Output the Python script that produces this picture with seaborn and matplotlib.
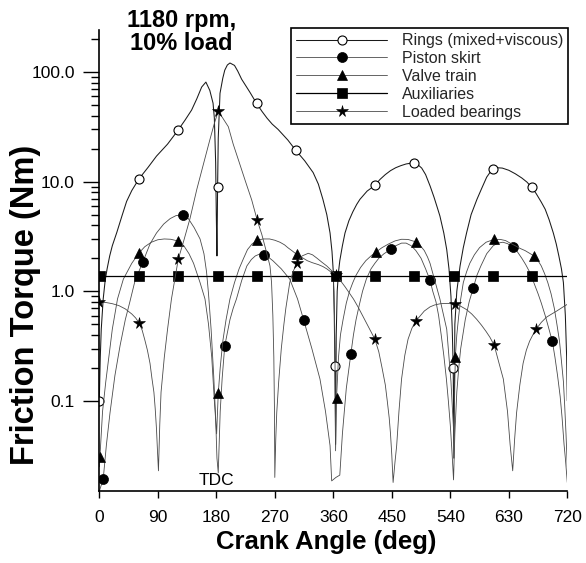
import numpy as np
import pandas as pd
import matplotlib
matplotlib.use("Agg")
import matplotlib.pyplot as plt
from matplotlib.ticker import FixedLocator, FixedFormatter, NullFormatter
import seaborn as sns

# Friction torque components over one 4-stroke cycle, 1180 rpm, 10% load
rings_deg = [0, 1.5, 3, 6, 9, 12, 16, 20, 27, 35, 42, 50, 61,
             75, 88, 105, 121, 132, 142, 150, 157.5, 164, 170, 175, 177, 179, 180, 181, 182,
             183, 185.7, 190, 193, 197, 201,
             208, 213, 219, 226, 232, 242, 250, 258, 266, 275, 290, 302, 316, 329, 337, 344,
             350, 355, 358, 360, 361.5, 362.5, 363.5,
             364.5, 366, 368, 370, 374, 378, 384, 390, 396, 401, 412, 424, 432, 440, 448, 456,
             464, 472, 478, 484, 490, 496, 502, 509, 515, 520, 524, 530, 534.5, 538, 541, 543,
             544.5, 545.5,
             547, 550, 555, 560, 565, 572, 581, 588, 596, 605, 612, 620, 630, 640, 650, 658,
             665, 672, 680, 686, 692, 698.5, 703, 707, 711, 714, 717, 719, 720]
rings_torque = [0.1, 0.25, 0.45, 0.85, 1.25, 1.6, 2.1, 2.6, 3.45, 4.9, 6.6, 8.3, 10.6,
                13.5, 17.1, 22, 29.4, 36.5, 45, 57, 73, 81, 68, 52, 38, 15, 5, 2.1, 8.9,
                25, 64, 88, 104, 116, 121,
                115, 102, 86, 74, 65, 51.7, 44, 38, 33.5, 30, 24, 19.4, 15.5, 12.1, 9.5, 6.9,
                5.0, 3.4, 2.3, 1.5, 0.6, 0.21, 0.04,
                0.4, 1.0, 1.5, 1.9, 2.6, 3.4, 4.4, 5.3, 6.2, 6.9, 8.2, 9.25, 10.5, 11.6, 12.6,
                13.4, 14.0, 14.5, 14.7, 14.7, 14.3, 13.3, 11.6, 9.1, 7.2, 5.8, 4.86, 3.4, 2.4,
                1.6, 0.9, 0.45, 0.2, 0.03,
                0.5, 1.0, 1.7, 2.5, 3.4, 5.0, 6.9, 8.6, 11.0, 13.1, 13.4, 13.3, 12.7, 11.8,
                10.8, 9.9, 8.9, 7.8, 6.5, 5.6, 4.5, 3.4, 2.7, 2.1, 1.6, 1.2, 0.6, 0.25, 0.1]
rings_marks = [0, 61, 121, 182, 242, 302, 362.5, 424, 484, 544.5, 605, 665]

skirt_deg = [0, 6, 11, 16.5, 24, 32, 40, 47, 55, 66.7, 78, 88, 99, 109, 118, 128, 137, 146,
             155, 161, 165, 168, 172, 176, 179, 181, 183,
             186, 189, 193, 201, 206, 211, 219, 227, 234, 240, 248, 253.4, 260, 267, 280, 293,
             305, 314.5, 327, 339.5, 348, 355, 357.5, 364, 370,
             374, 380, 387, 391, 395, 400, 405, 411, 418, 424, 430, 438, 448.3, 456, 465, 472,
             480, 487, 495, 502, 508.8, 513, 518, 522, 526, 530, 534, 537, 540, 542.5, 545,
             547, 550, 553, 556, 563, 569, 575.5, 581, 587, 596, 606, 613, 621, 628, 636, 643,
             650, 656, 662, 668, 675, 680, 686, 691, 697, 701, 705, 709, 712, 715, 717, 720]
skirt_torque = [0.015, 0.0193, 0.04, 0.078, 0.17, 0.32, 0.55, 0.8, 1.25, 1.83, 2.7, 3.4, 4.1,
                4.6, 4.9, 4.96, 4.6, 3.8, 3.0, 2.2, 1.5, 0.95, 0.45, 0.17, 0.07, 0.03, 0.022,
                0.08, 0.16, 0.317, 0.55, 0.7, 0.85, 1.25, 1.7, 1.95, 2.1, 2.2, 2.14, 2.05, 1.9,
                1.6, 1.29, 0.85, 0.544, 0.3, 0.158, 0.08, 0.039, 0.0186, 0.02, 0.021,
                0.05, 0.13, 0.268, 0.4, 0.55, 0.75, 1.0, 1.3, 1.6, 1.8, 2.0, 2.2, 2.41, 2.6,
                2.75, 2.75, 2.6, 2.35, 2.0, 1.6, 1.26, 1.0, 0.8, 0.6, 0.4, 0.26, 0.158, 0.1,
                0.06, 0.035, 0.019,
                0.05, 0.12, 0.2, 0.3, 0.55, 0.8, 1.08, 1.4, 1.7, 2.2, 2.6, 2.75, 2.8, 2.72,
                2.53, 2.3, 2.0, 1.75, 1.5, 1.22, 0.95, 0.78, 0.6, 0.47, 0.348, 0.25, 0.17, 0.11,
                0.07, 0.04, 0.03, 0.018]
skirt_marks = [6, 66.7, 128, 193, 253.4, 314.5, 387, 448.3, 508.8, 575.5, 636, 697]

valve_deg = [0, 1, 5, 10, 20, 28, 37, 50, 61.5, 70, 80, 90, 100, 110, 121.5, 130, 138, 145,
             155, 162.6, 168, 173, 177, 180.5, 183,
             186, 190, 195, 201, 208, 215, 222, 228, 235, 243, 252, 262, 270, 278, 285, 290,
             297, 303.6, 312, 320, 328, 337, 344, 350, 355, 358, 360, 361, 362, 362.5, 363.5,
             365,
             368, 371, 375, 380, 385, 390, 395, 402, 410, 418, 425.7, 435, 445, 455, 465, 475,
             487, 494, 500, 505, 508.8, 517, 524, 534.5, 541, 545.5, 547.7,
             550, 553, 556, 560, 565, 570, 577, 585, 595, 607.7, 617, 625, 632, 640, 648, 655,
             662, 668.8, 675, 680, 685, 690, 695, 700, 704, 708, 711, 714, 716, 718, 720]
valve_torque = [0.025, 0.031, 0.08, 0.15, 0.45, 0.85, 1.29, 1.8, 2.25, 2.55, 2.8, 2.95, 3.0,
                2.98, 2.87, 2.6, 2.2, 1.8, 1.2, 0.85, 0.5, 0.25, 0.1, 0.05, 0.117,
                0.2, 0.35, 0.55, 0.85, 1.2, 1.6, 2.0, 2.4, 2.7, 2.92, 3.0, 3.0, 2.92, 2.8, 2.65,
                2.5, 2.33, 2.17, 2.03, 1.9, 1.82, 1.75, 1.68, 1.6, 1.52, 1.45, 1.25, 1.0, 0.5,
                0.3, 0.035, 0.107,
                0.25, 0.4, 0.55, 0.78, 1.0, 1.2, 1.4, 1.65, 1.9, 2.1, 2.28, 2.5, 2.7, 2.88,
                2.98, 2.97, 2.82, 2.6, 2.35, 2.05, 1.8, 1.2, 0.85, 0.45, 0.15, 0.048, 0.249,
                0.4, 0.6, 0.85, 1.2, 1.5, 1.8, 2.15, 2.5, 2.8, 2.98, 2.97, 2.9, 2.75, 2.6, 2.45,
                2.35, 2.22, 2.1, 1.9, 1.7, 1.45, 1.2, 0.95, 0.7, 0.5, 0.35, 0.23, 0.15, 0.09,
                0.05, 0.025]
valve_marks = [1, 61.5, 121.5, 183, 243, 303.6, 365, 425.7, 487, 547.7, 607.7, 668.8]

aux_deg = [0, 1, 61.5, 121.5, 182, 243, 303.6, 364, 424, 484, 545, 605, 666, 720]
aux_torque = [1.37, 1.37, 1.37, 1.37, 1.37, 1.37, 1.37, 1.37, 1.37, 1.37, 1.37, 1.37, 1.37, 1.37]
aux_marks = [1, 61.5, 121.5, 182, 243, 303.6, 364, 424, 484, 545, 605, 666]

bear_deg = [0, 10, 20, 30, 40, 50, 56, 61.5, 66, 70, 74, 78, 81, 84, 86, 88, 89.5, 91,
            93, 95, 100, 105, 111, 121.5, 130, 139.5, 150, 160, 170, 177, 183, 190, 198.5,
            206, 214, 225, 234.5, 243, 250, 257, 262.6, 265, 267, 268.5, 269.5, 270,
            271.5, 273, 276, 280, 284, 287, 293, 298, 303.6, 312, 321.5, 328, 335, 342, 350,
            357, 364, 371, 378, 391, 398, 405, 416, 424, 430, 435, 440, 443, 446, 448, 450, 452,
            455, 457.5, 461, 465, 470, 475, 481, 487, 492, 500, 508.8, 516, 525, 536, 547.7,
            556, 565, 573, 580.6, 588, 595, 601, 607.7, 611, 615, 621.6, 628, 632, 636,
            639, 642, 647, 652, 657, 662, 667, 672, 680, 688, 696, 703.7, 712, 720]
bear_torque = [0.79, 0.79, 0.77, 0.74, 0.69, 0.62, 0.57, 0.51, 0.44, 0.36, 0.29, 0.22, 0.16,
               0.12, 0.085, 0.055, 0.035, 0.023,
               0.06, 0.12, 0.25, 0.45, 0.85, 1.96, 2.9, 4.6, 8.5, 14.3, 24, 34, 44, 38, 31.7,
               22, 15.8, 10, 6.8, 4.44, 3.3, 2.3, 1.7, 1.2, 0.6, 0.25, 0.08, 0.02,
               0.045, 0.078, 0.15, 0.3, 0.5, 0.7, 1.2, 1.5, 1.8, 2.1, 2.22, 2.15, 2.0, 1.85,
               1.7, 1.55, 1.4, 1.25, 1.1, 0.85, 0.72, 0.6, 0.45, 0.365, 0.28, 0.2, 0.14, 0.1,
               0.07, 0.05, 0.032, 0.018,
               0.028, 0.039, 0.08, 0.158, 0.26, 0.365, 0.46, 0.536, 0.58, 0.66, 0.72, 0.75,
               0.77, 0.775, 0.76, 0.73, 0.68, 0.62, 0.555, 0.49, 0.43, 0.38, 0.32, 0.27, 0.22,
               0.158, 0.08, 0.04, 0.023,
               0.045, 0.078, 0.14, 0.22, 0.29, 0.35, 0.4, 0.45, 0.52, 0.58, 0.62, 0.66, 0.71,
               0.76]
bear_marks = [0, 61.5, 121.5, 183, 243, 303.6, 364, 424, 487, 547.7, 607.7, 672]

x_ticks = [0, 90, 180, 270, 360, 450, 540, 630, 720]
y_major = [0.1, 1.0, 10.0, 100.0]
y_major_labels = ["0.1", "1.0", "10.0", "100.0"]
y_minor = [0.2, 0.3, 0.4, 0.5, 0.6, 0.7, 0.8, 0.9, 2, 3, 4, 5, 6, 7, 8, 9,
           20, 30, 40, 50, 60, 70, 80, 90, 200]

sns.set_theme(style="ticks")
plt.rcParams["font.family"] = ["Liberation Sans", "DejaVu Sans"]

fig = plt.figure(figsize=(5.86, 5.63), dpi=100)
ax = fig.add_axes([99.3 / 586, 1 - 490.5 / 563, 468 / 586, 460.5 / 563])

series = [
    ("Rings (mixed+viscous)", rings_deg, rings_torque, rings_marks,
     dict(marker="o", markersize=6.5, markerfacecolor="white", markeredgecolor="black",
          markeredgewidth=0.8, color="#1a1a1a", linewidth=0.75)),
    ("Piston skirt", skirt_deg, skirt_torque, skirt_marks,
     dict(marker="o", markersize=7.2, markerfacecolor="black", markeredgecolor="black",
          markeredgewidth=0.5, color="#4a4a4a", linewidth=0.6)),
    ("Valve train", valve_deg, valve_torque, valve_marks,
     dict(marker="^", markersize=6.5, markerfacecolor="black", markeredgecolor="black",
          markeredgewidth=0.5, color="#4a4a4a", linewidth=0.6)),
    ("Auxiliaries", aux_deg, aux_torque, aux_marks,
     dict(marker="s", markersize=6.8, markerfacecolor="black", markeredgecolor="black",
          markeredgewidth=0.5, color="black", linewidth=0.9)),
    ("Loaded bearings", bear_deg, bear_torque, bear_marks,
     dict(marker="*", markersize=8.5, markerfacecolor="black", markeredgecolor="black",
          markeredgewidth=0.4, color="#4a4a4a", linewidth=0.6)),
]

handles = []
for label, deg, torque, marks, style in series:
    assert len(deg) == len(torque), label
    df = pd.DataFrame({"deg": deg, "torque": torque})
    mask = list(np.isin(df["deg"].to_numpy(), marks))
    sns.lineplot(data=df, x="deg", y="torque", ax=ax, sort=False, estimator=None,
                 errorbar=None, markevery=mask, label=label, **style)
    handles.append(ax.lines[-1])

ax.set_yscale("log")
ax.set_xlim(0, 720)
ax.set_ylim(0.0152, 242)
ax.set_xticks(x_ticks)
ax.set_xticklabels([str(t) for t in x_ticks])
ax.yaxis.set_major_locator(FixedLocator(y_major))
ax.yaxis.set_major_formatter(FixedFormatter(y_major_labels))
ax.yaxis.set_minor_locator(FixedLocator(y_minor))
ax.yaxis.set_minor_formatter(NullFormatter())

ax.tick_params(axis="x", which="major", direction="out", length=5.3, width=1.0,
               labelsize=12.5, color="black", labelcolor="black", pad=8.5)
ax.tick_params(axis="y", which="major", direction="out", length=11.5, width=1.0,
               labelsize=12.5, color="black", labelcolor="black", pad=6)
ax.tick_params(axis="y", which="minor", direction="out", length=5.5, width=1.0, color="black")
for side in ("top", "right"):
    ax.spines[side].set_visible(False)
for side in ("left", "bottom"):
    ax.spines[side].set_color("black")
    ax.spines[side].set_linewidth(1.2)

ax.set_xlabel("Crank Angle (deg)", fontsize=18.5, fontweight="bold", color="black")
ax.set_ylabel("Friction Torque (Nm)", fontsize=23.5, fontweight="bold", color="black")
ax.xaxis.set_label_coords(0.484, -0.085)
ax.yaxis.set_label_coords(-0.124, 0.403)

ax.text(180, 0.0186, "TDC", ha="center", va="center", fontsize=12.5, color="black")

fig.text(181.7 / 586, 1 - 32 / 563, "1180 rpm,\n10% load", ha="center", va="center",
         fontsize=17, fontweight="bold", color="black", linespacing=1.05)

leg = ax.legend(handles, [s[0] for s in series], loc="upper right",
                bbox_to_anchor=(567.7 / 586, 1 - 28.3 / 563), bbox_transform=fig.transFigure,
                borderaxespad=0, fontsize=11.5, handlelength=5.7, handletextpad=0.9,
                borderpad=0.3, labelspacing=0.18, fancybox=False, framealpha=1,
                edgecolor="black")
leg.get_frame().set_linewidth(1.2)

fig.savefig("out.png", dpi=100)
